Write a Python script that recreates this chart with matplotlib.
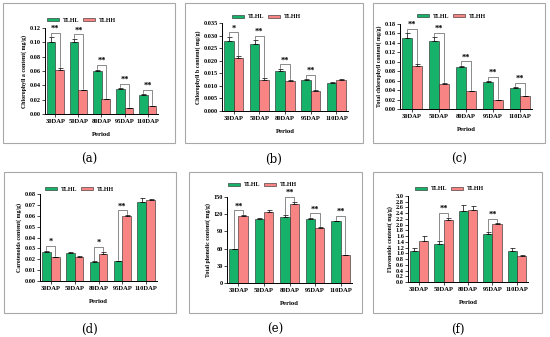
from matplotlib import pyplot as plt
from matplotlib.patches import Rectangle
from matplotlib.ticker import FormatStrFormatter
import numpy as np

## Data ---------------------------------------------------------------------
periods = ["30DAP", "50DAP", "80DAP", "95DAP", "110DAP"]
groups = ["TLHL", "TLHH"]

chla_hl = [0.101, 0.100, 0.060, 0.035, 0.027]
chla_hl_err = [0.006, 0.005, 0.002, 0.001, 0.001]
chla_hh = [0.061, 0.033, 0.021, 0.008, 0.011]
chla_hh_err = [0.003, 0.001, 0.0006, 0.0005, 0.0005]
chla_sig = ["**", "**", "**", "**", "**"]

chlb_hl = [0.028, 0.0265, 0.016, 0.0123, 0.011]
chlb_hl_err = [0.0015, 0.0017, 0.0008, 0.0003, 0.0007]
chlb_hh = [0.021, 0.0125, 0.012, 0.008, 0.0123]
chlb_hh_err = [0.0008, 0.0006, 0.0003, 0.0002, 0.0006]
chlb_sig = ["*", "**", "**", "**", ""]

tot_hl = [0.150, 0.145, 0.089, 0.057, 0.044]
tot_hl_err = [0.010, 0.008, 0.003, 0.002, 0.003]
tot_hh = [0.092, 0.052, 0.038, 0.019, 0.027]
tot_hh_err = [0.004, 0.003, 0.001, 0.001, 0.001]
tot_sig = ["**", "**", "**", "**", "**"]

car_hl = [0.027, 0.026, 0.0175, 0.018, 0.073]
car_hl_err = [0.001, 0.001, 0.0005, 0.0005, 0.003]
car_hh = [0.022, 0.022, 0.025, 0.060, 0.0745]
car_hh_err = [0.0005, 0.001, 0.002, 0.001, 0.0005]
car_sig = ["*", "", "*", "**", ""]

phe_hl = [59, 112, 115, 112, 108]
phe_hl_err = [1, 2, 3, 2, 1]
phe_hh = [116, 123, 138, 96, 48]
phe_hh_err = [3, 5, 4, 2, 1]
phe_sig = ["**", "", "**", "**", "**"]

fla_hl = [1.08, 1.32, 2.48, 1.68, 1.07]
fla_hl_err = [0.10, 0.10, 0.20, 0.08, 0.12]
fla_hh = [1.43, 2.18, 2.50, 2.02, 0.92]
fla_hh_err = [0.16, 0.07, 0.15, 0.04, 0.02]
fla_sig = ["", "**", "", "**", ""]

## Style ---------------------------------------------------------------------
green = "#17b26a"
red = "#f88483"
serif = "Liberation Serif"
plt.rc("font", family=serif, weight="bold")

W, H = 550, 337
fig = plt.figure(figsize=(W / 100, H / 100), dpi=100)


def px_rect(x0, y0, x1, y1):
    return [x0 / W, 1 - y1 / H, (x1 - x0) / W, (y1 - y0) / H]


## Panels: axes pixel box, frame pixel box, label, legend offset (px) ------
panels = [
    ((45, 28, 158, 114), (3, 3, 175, 143), "(a)", (2, 8), chla_hl, chla_hl_err, chla_hh, chla_hh_err, chla_sig,
     "Chlorophyll a content( mg/g)", (0, 0.12), 0.02, "%.2f"),
    ((222, 23, 348, 111), (185, 3, 363, 143), "(b)", (10, 6), chlb_hl, chlb_hl_err, chlb_hh, chlb_hh_err, chlb_sig,
     "Chlorophyll b content( mg/g)", (0, 0.035), 0.005, "%.3f"),
    ((400, 24, 532, 109), (373, 3, 545, 143), "(c)", (17, 8), tot_hl, tot_hl_err, tot_hh, tot_hh_err, tot_sig,
     "Total chlorophyll content( mg/g)", (0, 0.18), 0.02, "%.2f"),
    ((40, 194, 157, 281), (4, 172, 176, 313), "(d)", (5, 5), car_hl, car_hl_err, car_hh, car_hh_err, car_sig,
     "Carotenoids content( mg/g)", (0, 0.08), 0.01, "%.2f"),
    ((227, 197, 352, 283), (189, 172, 362, 313), "(e)", (1, 12), phe_hl, phe_hl_err, phe_hh, phe_hh_err, phe_sig,
     "Total phenolic content( mg/g)", (0, 150), 30, "%d"),
    ((408, 196, 528, 282), (373, 172, 542, 313), "(f)", (7, 7), fla_hl, fla_hl_err, fla_hh, fla_hh_err, fla_sig,
     "Flavonoids content( mg/g)", (0, 3.0), 0.2, "%.1f"),
]

x = np.arange(len(periods))
bw = 0.37

for ax_box, fr_box, lab, leg_off, hl, hl_err, hh, hh_err, sig, ylab, ylim, step, fmt in panels:
    # grey frame around each panel + the (a)..(f) label below
    fx0, fy0, fx1, fy1 = fr_box
    fig.patches.append(Rectangle((fx0 / W, 1 - fy1 / H), (fx1 - fx0) / W, (fy1 - fy0) / H,
                                 transform=fig.transFigure, fill=False, edgecolor="#a8a8a8", lw=0.8))
    fig.text((fx0 + fx1) / 2 / W, 1 - (fy1 + 16) / H, lab, ha="center", va="center",
             fontsize=8.5, fontweight="normal", family="DejaVu Serif")

    ax = fig.add_axes(px_rect(*ax_box))
    ax_w = ax_box[2] - ax_box[0]
    ax_h = ax_box[3] - ax_box[1]
    ax.bar(x - bw / 2, hl, bw, color=green, edgecolor="#222222", lw=0.4, label=groups[0],
           yerr=[np.zeros(5), hl_err], error_kw=dict(lw=0.5, capsize=1.8, capthick=0.5))
    ax.bar(x + bw / 2, hh, bw, color=red, edgecolor="#222222", lw=0.4, label=groups[1],
           yerr=[np.zeros(5), hh_err], error_kw=dict(lw=0.5, capsize=1.8, capthick=0.5))

    ymax = ylim[1]
    for i, s in enumerate(sig):
        if not s:
            continue
        t1 = hl[i] + hl_err[i]
        t2 = hh[i] + hh_err[i]
        yb = max(t1, t2) + 0.05 * ymax
        ax.plot([x[i] - bw / 2, x[i] - bw / 2, x[i] + bw / 2, x[i] + bw / 2],
                [t1 + 0.01 * ymax, yb, yb, t2 + 0.01 * ymax], color="#333333", lw=0.4, clip_on=False)
        ax.text(x[i], yb, s, ha="center", va="bottom", fontsize=6, fontweight="bold")

    ax.set_xlim(-0.45, 4.45)
    ax.set_ylim(*ylim)
    ax.set_yticks(np.arange(0, ymax + step / 2, step))
    ax.yaxis.set_major_formatter(FormatStrFormatter(fmt))
    ax.set_xticks(x)
    ax.set_xticklabels(periods, fontsize=4.7, fontweight="bold")
    ax.tick_params(axis="y", labelsize=4.5, length=2, width=0.5, pad=1)
    ax.tick_params(axis="x", length=2, width=0.5, pad=1.5)
    for sp in ["top", "right"]:
        ax.spines[sp].set_visible(False)
    for sp in ["left", "bottom"]:
        ax.spines[sp].set_linewidth(0.7)
    ax.set_ylabel(ylab, fontsize=4.2, fontweight="bold", labelpad=2)
    ax.set_xlabel("Period", fontsize=4.8, fontweight="bold", labelpad=6)
    ax.legend(loc="center left", bbox_to_anchor=(leg_off[0] / ax_w, 1 + leg_off[1] / ax_h), ncol=2,
              frameon=False, fontsize=4.3, handlelength=2.0, handleheight=0.55, columnspacing=0.6,
              handletextpad=0.7, borderaxespad=0, borderpad=0)

fig.savefig("out.png", dpi=100)
